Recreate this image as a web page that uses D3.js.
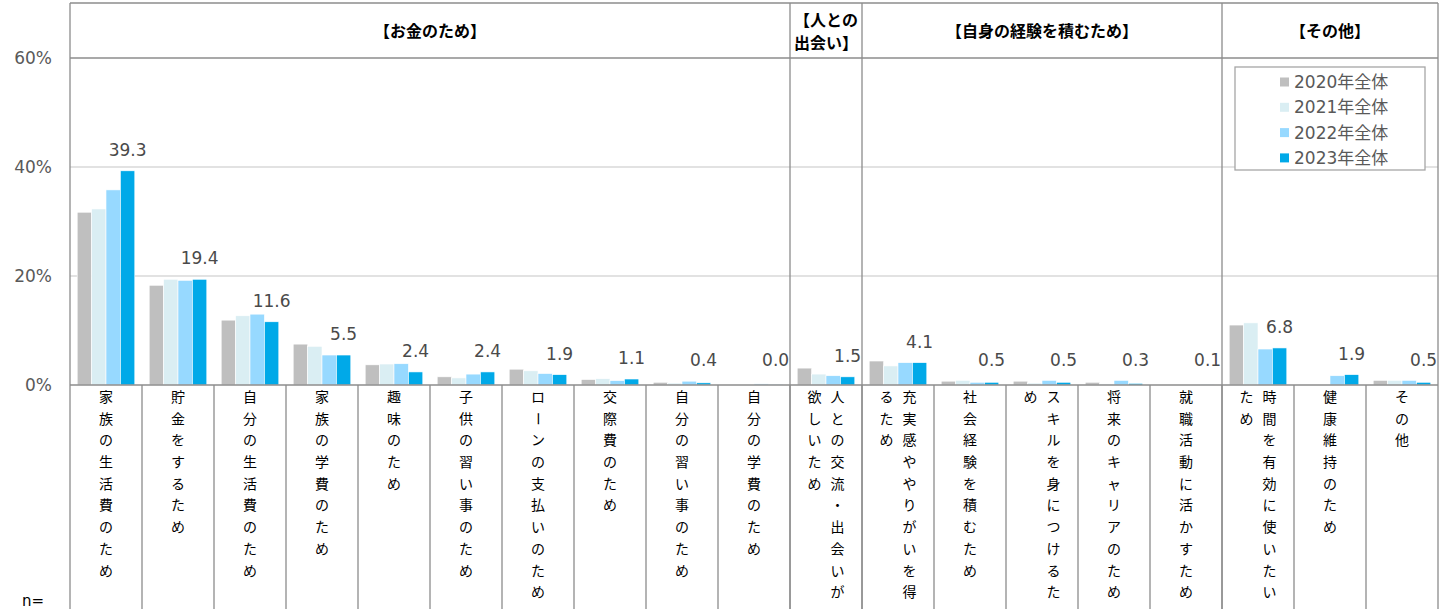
<!DOCTYPE html>
<html><head><meta charset="utf-8">
<script src="https://cdn.jsdelivr.net/npm/d3@7"></script>
<style>body{margin:0;background:#fff;}svg{display:block;}</style>
</head><body>
<svg id="chart" width="1453" height="609"></svg>
<script>
const categories = [
  "家族の生活費のため","貯金をするため","自分の生活費のため","家族の学費のため","趣味のため",
  "子供の習い事のため","ローンの支払いのため","交際費のため","自分の習い事のため","自分の学費のため",
  "人との交流・出会いが欲しいため",
  "充実感ややりがいを得るため","社会経験を積むため","スキルを身につけるため","将来のキャリアのため","就職活動に活かすため",
  "時間を有効に使いたいため","健康維持のため","その他"
];
const groupNames = ["【お金のため】","【人との\n出会い】","【自身の経験を積むため】","【その他】"];
const groupSizes = [10, 1, 5, 3];
const seriesNames = ["2020年全体","2021年全体","2022年全体","2023年全体"];
const v2020 = [31.7,18.3,11.9,7.5,3.7,1.5,2.9,1.0,0.5,0,3.1,4.4,0.7,0.7,0.5,0,11.0,0,0.85];
const v2021 = [32.3,19.4,12.7,7.1,3.85,1.3,2.6,1.15,0.35,0,2.0,3.5,0.85,0.35,0.2,0,11.4,0,0.85];
const v2022 = [35.8,19.2,13.0,5.5,3.9,2.0,2.1,0.8,0.7,0.2,1.7,4.1,0.5,0.85,0.85,0,6.6,1.7,0.85];
const v2023 = [39.3,19.4,11.6,5.5,2.4,2.4,1.9,1.1,0.4,0.04,1.5,4.1,0.5,0.5,0.3,0.1,6.8,1.9,0.5];
const yTicks = [0, 20, 40, 60];
const colors = ["#bfbfbf","#daeef3","#97d9ff","#00a9e8"];

const series = [v2020, v2021, v2022, v2023];
const svg = d3.select("#chart");
const L = 70, R = 1438, TOP = 3, HEAD = 58, BASE = 385, BOTTOM = 609;
const x = d3.scaleBand().domain(categories).range([L, R]).paddingInner(0).paddingOuter(0);
const xs = d3.scaleBand().domain(seriesNames)
  .range([x.bandwidth()*0.1, x.bandwidth()*0.9]).paddingInner(0).paddingOuter(0);
const y = d3.scaleLinear().domain([0, 60]).range([BASE, HEAD]);
const numFont = "'DejaVu Sans','Noto Sans CJK JP',sans-serif";
const jpFont = "'Noto Sans CJK JP','Noto Sans',sans-serif";

// gridlines
svg.append("g").selectAll("line").data(yTicks.filter(t => t > 0 && t < 60)).join("line")
  .attr("x1", L).attr("x2", R).attr("y1", d => y(d)).attr("y2", d => y(d))
  .attr("stroke", "#d9d9d9").attr("stroke-width", 1.3);

// y tick labels
svg.append("g").selectAll("text").data(yTicks).join("text")
  .attr("x", 52).attr("y", d => y(d)).attr("dy", "0.35em").attr("text-anchor", "end")
  .attr("font-family", numFont).attr("font-size", 17).attr("fill", "#595959")
  .text(d => d + "%");

// bars
const barG = svg.append("g");
series.forEach((vals, si) => {
  barG.append("g").selectAll("rect").data(vals).join("rect")
    .attr("x", (d, i) => x(categories[i]) + xs(seriesNames[si]))
    .attr("width", xs.bandwidth())
    .attr("y", d => y(d))
    .attr("height", d => BASE - y(d))
    .attr("fill", colors[si])
    .attr("stroke", "#fff").attr("stroke-width", 0.6);
});

// value labels for 2023
svg.append("g").selectAll("text").data(v2023).join("text")
  .attr("x", (d, i) => x(categories[i]) + xs(seriesNames[3]) + xs.bandwidth()/2)
  .attr("y", d => Math.min(y(d) - 21, BASE - 25)).attr("dy", "0.35em")
  .attr("text-anchor", "middle")
  .attr("font-family", numFont).attr("font-size", 17).attr("fill", "#4a4a4a")
  .text(d => d.toFixed(1));

// frame lines
const lineColor = "#8c8c8c";
const frame = svg.append("g").attr("stroke", lineColor).attr("stroke-width", 1.3);
frame.append("line").attr("x1", L).attr("x2", R).attr("y1", TOP).attr("y2", TOP);
frame.append("line").attr("x1", L).attr("x2", R).attr("y1", HEAD).attr("y2", HEAD);
frame.append("line").attr("x1", L).attr("x2", R).attr("y1", BASE).attr("y2", BASE);
frame.append("line").attr("x1", L).attr("x2", L).attr("y1", TOP).attr("y2", BOTTOM);
frame.append("line").attr("x1", R).attr("x2", R).attr("y1", TOP).attr("y2", BOTTOM);

// category dividers (label area)
frame.selectAll(".cdiv").data(categories.slice(1)).join("line")
  .attr("x1", d => x(d)).attr("x2", d => x(d)).attr("y1", BASE).attr("y2", BOTTOM);

// group dividers and titles
let start = 0;
const groupG = svg.append("g");
groupNames.forEach((g, gi) => {
  const x0 = x(categories[start]);
  const endIdx = start + groupSizes[gi] - 1;
  const x1 = x(categories[endIdx]) + x.bandwidth();
  if (gi > 0) {
    frame.append("line").attr("x1", x0).attr("x2", x0).attr("y1", TOP).attr("y2", BOTTOM);
  }
  const lines = g.split("\n");
  const cx = (x0 + x1) / 2;
  const t = groupG.append("text").attr("text-anchor", "middle")
    .attr("font-family", jpFont).attr("font-size", 16).attr("font-weight", "bold").attr("fill", "#000");
  lines.forEach((ln, li) => {
    t.append("tspan").attr("x", cx)
      .attr("y", lines.length === 1 ? 31 : 20 + li * 23)
      .attr("dy", "0.35em").text(ln);
  });
  start += groupSizes[gi];
});

// vertical category labels
const maxPerCol = 10;
const lineStep = 21.7;
const labelG = svg.append("g").attr("font-family", jpFont).attr("font-size", 14).attr("fill", "#000");
categories.forEach((c, i) => {
  const chars = Array.from(c);
  const cols = [];
  for (let k = 0; k < chars.length; k += maxPerCol) cols.push(chars.slice(k, k + maxPerCol));
  const cx = x(c) + x.bandwidth() / 2;
  const colGap = 23;
  cols.forEach((col, ci) => {
    const offset = cols.length === 1 ? 0 : (cols.length - 1) * colGap / 2 - ci * colGap;
    col.forEach((ch, k) => {
      const px = cx + offset, py = 397 + k * lineStep;
      const t = labelG.append("text").attr("x", px).attr("y", py).attr("dy", "0.35em")
        .attr("text-anchor", "middle").text(ch);
      if (ch === "ー") t.attr("transform", `rotate(90 ${px} ${py})`);
    });
  });
});

// n=
svg.append("text").attr("x", 22).attr("y", 601).attr("dy", "0.35em")
  .attr("font-family", numFont).attr("font-size", 15).attr("fill", "#000").text("n=");

// legend
const lg = svg.append("g");
lg.append("rect").attr("x", 1235).attr("y", 67).attr("width", 190).attr("height", 103)
  .attr("fill", "#fff").attr("stroke", "#a6a6a6").attr("stroke-width", 1.3);
seriesNames.forEach((s, i) => {
  const cy = 82 + i * 25.3;
  lg.append("rect").attr("x", 1280).attr("y", cy - 4.5).attr("width", 9).attr("height", 9).attr("fill", colors[i]);
  lg.append("text").attr("x", 1294).attr("y", cy).attr("dy", "0.35em")
    .attr("font-family", numFont).attr("font-size", 17).attr("fill", "#595959").text(s);
});
</script>
</body></html>
